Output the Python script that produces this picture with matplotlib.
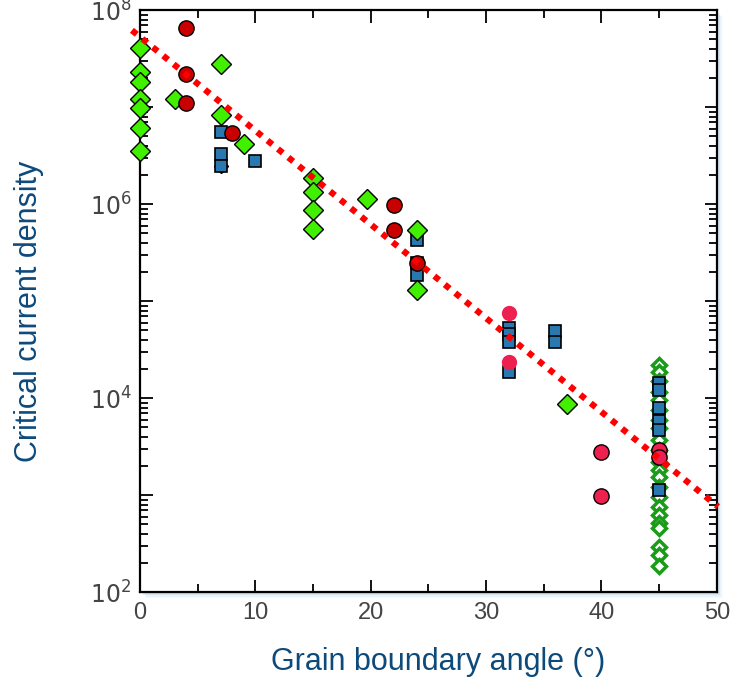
import matplotlib
matplotlib.use("Agg")
import matplotlib.pyplot as plt
from matplotlib.patches import Rectangle

plt.rcParams["font.family"] = ["Liberation Sans Narrow", "Liberation Sans", "DejaVu Sans"]
plt.rcParams["mathtext.fontset"] = "custom"
plt.rcParams["mathtext.rm"] = "Liberation Sans Narrow"

# filled green diamonds
green_angle = [0, 0, 0, 0, 0, 0, 0, 3, 7, 7, 9, 15, 15, 15, 15, 19.7, 24, 24, 37]
green_jc = [4.1e7, 2.3e7, 1.8e7, 1.2e7, 9.8e6, 6.1e6, 3.5e6, 1.2e7, 2.8e7, 8.3e6,
            4.2e6, 1.84e6, 1.34e6, 8.8e5, 5.6e5, 1.12e6, 5.4e5, 1.29e5, 8.7e3]
small_green_angle = [7]
small_green_jc = [2.5e6]

# blue squares
blue_angle = [7, 7, 7, 10, 24, 24, 24, 32, 32, 32, 32, 36, 36,
              45, 45, 45, 45, 45, 45]
blue_jc = [5.6e6, 3.3e6, 2.5e6, 2.8e6, 4.3e5, 2.46e5, 1.87e5, 5.3e4, 4.6e4, 3.8e4, 1.87e4,
           4.9e4, 3.75e4, 1.42e4, 1.21e4, 7.9e3, 5.8e3, 4.7e3, 1.12e3]

# dark red circles
red_angle = [4, 4, 4, 8, 22, 22, 24]
red_jc = [6.5e7, 2.2e7, 1.1e7, 5.4e6, 9.8e5, 5.4e5, 2.5e5]

# pink circles
pink_angle = [32, 32]
pink_jc = [7.6e4, 2.37e4]
pink_edge_angle = [40, 40, 45, 45]
pink_edge_jc = [2.8e3, 9.8e2, 2.9e3, 2.5e3]

# open green diamonds at 45 deg
open_angle = [45] * 22
open_jc = [2.19e4, 1.86e4, 1.5e4, 1.16e4, 9.6e3, 7.6e3, 5.9e3, 4.9e3, 3.7e3, 2.9e3, 2.2e3,
           1.8e3, 1.54e3, 1.2e3, 9.5e2, 7.5e2, 6.2e2, 5.1e2, 4.6e2, 2.9e2, 2.4e2, 1.85e2]

# fit line
fit_angle = [-0.7, 50.1]
fit_jc = [6.2e7, 7.6e2]

fig = plt.figure(figsize=(7.33, 6.79), dpi=100)
ax = fig.add_axes([0.191, 0.128, 0.787, 0.857])

# soft blue shadow under the frame
for i, a in enumerate([0.35, 0.25, 0.15, 0.08]):
    d = (i + 1) * 1.5
    fig.patches.append(Rectangle((0.191 + d / 733, 0.128 - d / 679), 0.787, 0.857,
                                 transform=fig.transFigure, facecolor="#9cc4e4",
                                 edgecolor="none", alpha=a, zorder=-1))

ax.set_facecolor("white")

ax.plot(open_angle, open_jc, "D", ms=7, mfc="white", mec="#1a9c1a", mew=2.5,
        clip_on=False, zorder=2)
ax.plot(small_green_angle, small_green_jc, "D", ms=7, mfc="#40f000", mec="black", mew=1,
        clip_on=False, zorder=2)
ax.plot(blue_angle, blue_jc, "s", ms=9, mfc="#2a78b0", mec="black", mew=1.2,
        clip_on=False, zorder=3)
ax.plot(green_angle, green_jc, "D", ms=10, mfc="#40f000", mec="black", mew=1,
        clip_on=False, zorder=4)
ax.plot(red_angle, red_jc, "o", ms=11, mfc="#c80000", mec="black", mew=1,
        clip_on=False, zorder=4)
ax.plot(pink_angle, pink_jc, "o", ms=11, mfc="#ee2050", mec="none",
        clip_on=False, zorder=4)
ax.plot(pink_edge_angle, pink_edge_jc, "o", ms=11, mfc="#ee2050", mec="black", mew=1,
        clip_on=False, zorder=4)

ax.plot(fit_angle, fit_jc, color="red", lw=4.5, linestyle=(0, (1, 1.15)),
        dash_capstyle="butt", clip_on=False, zorder=5)

ax.set_yscale("log")
ax.set_xlim(0, 50)
ax.set_ylim(1e2, 1e8)
ax.set_xticks(range(0, 51, 10))
ax.set_xticks(range(5, 50, 10), minor=True)
ax.set_yticks([10.0 ** k for k in range(2, 9)])
ax.set_yticklabels([r"$10^{%d}$" % k if k % 2 == 0 else "" for k in range(2, 9)])
ax.tick_params(which="both", direction="in", top=True, right=True, colors="black",
               labelcolor="#444444", labelsize=17, width=1.3)
ax.tick_params(which="major", length=9)
ax.tick_params(which="minor", length=6)
ax.tick_params(axis="x", pad=7)
ax.tick_params(axis="y", pad=6)
for s in ax.spines.values():
    s.set_linewidth(1.6)

ax.set_xlabel("Grain boundary angle (°)", fontsize=22, color="#0d4a7c",
              family=["Liberation Sans", "DejaVu Sans"], va="center", ha="center")
ax.set_ylabel("Critical current density", fontsize=22, color="#0d4a7c",
              family=["Liberation Sans", "DejaVu Sans"], va="center", ha="center")
ax.xaxis.set_label_coords(0.517, -0.120)
ax.yaxis.set_label_coords(-0.192, 0.483)

fig.savefig("out.png", dpi=100)
